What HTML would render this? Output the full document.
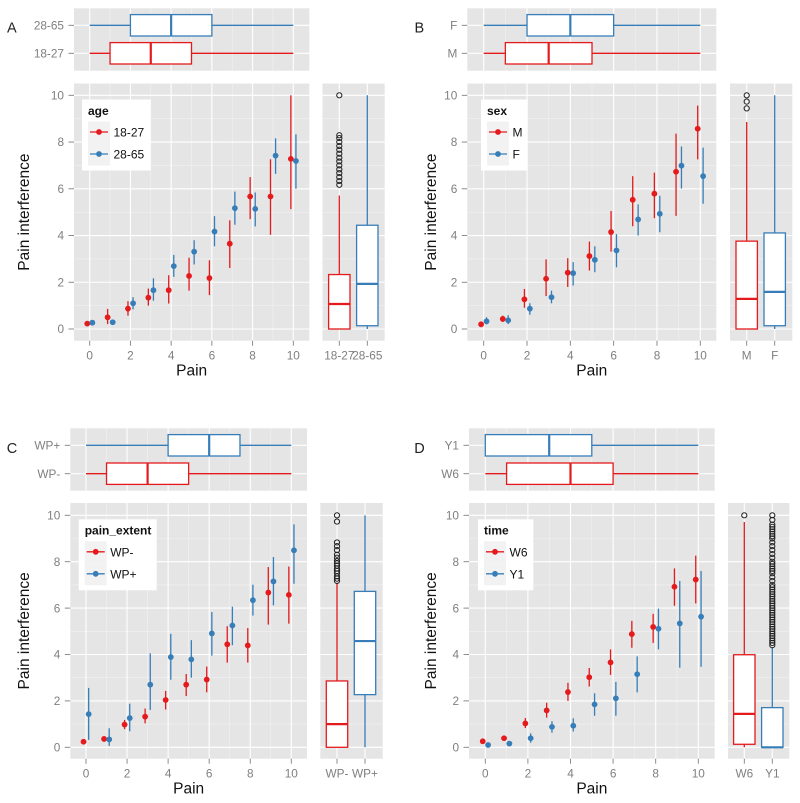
<!DOCTYPE html>
<html lang="en">
<head>
<meta charset="utf-8">
<title>Pain interference by pain across four groupings</title>
<style>
html,body{margin:0;padding:0;background:#fff;width:800px;height:803px;overflow:hidden}
svg{display:block}
text{font-family:"Liberation Sans",sans-serif}
</style>
</head>
<body>
<svg id="figure" width="800" height="803" viewBox="0 0 800 803" xmlns="http://www.w3.org/2000/svg"></svg>
<script>
// Shared axis values
const painTicks = [0, 2, 4, 6, 8, 10];
const painMinorTicks = [1, 3, 5, 7, 9];
const interferenceTicks = [0, 2, 4, 6, 8, 10];
const interferenceMinorTicks = [1, 3, 5, 7, 9];
const painLevels = [0, 1, 2, 3, 4, 5, 6, 7, 8, 9, 10];

// Panel A: age
const aGroups = ['18-27', '28-65'];
const aRedMean = [0.23, 0.5, 0.87, 1.34, 1.66, 2.27, 2.18, 3.65, 5.67, 5.67, 7.28];
const aRedLow = [0.15, 0.21, 0.57, 1.0, 1.09, 1.64, 1.45, 2.61, 4.7, 4.03, 5.13];
const aRedHigh = [0.33, 0.86, 1.19, 1.73, 2.3, 3.05, 2.94, 4.65, 6.5, 7.26, 10];
const aBlueMean = [0.27, 0.29, 1.1, 1.66, 2.69, 3.31, 4.17, 5.17, 5.14, 7.42, 7.19];
const aBlueLow = [0.2, 0.22, 0.84, 1.21, 2.23, 2.76, 3.54, 4.46, 4.39, 6.64, 6.0];
const aBlueHigh = [0.33, 0.36, 1.36, 2.17, 3.17, 3.8, 4.83, 5.88, 5.84, 8.16, 8.33];
const aPainBoxRed = [0, 1, 3, 5, 10];
const aPainBoxBlue = [0, 2, 4, 6, 10];
const aInterfBoxRed = [0, 0, 1.07, 2.33, 5.71];
const aInterfBoxBlue = [0, 0.14, 1.93, 4.44, 10];
const aOutliersRed = [6.17, 6.33, 6.5, 6.67, 6.83, 7, 7.17, 7.33, 7.5, 7.67, 7.83, 8, 8.17, 8.29, 10];
const aOutliersBlue = [];

// Panel B: sex
const bGroups = ['M', 'F'];
const bRedMean = [0.2, 0.43, 1.27, 2.15, 2.41, 3.12, 4.15, 5.53, 5.79, 6.73, 8.57];
const bRedLow = [0.13, 0.3, 0.91, 1.41, 1.8, 2.5, 3.31, 4.4, 4.74, 4.84, 7.26];
const bRedHigh = [0.27, 0.57, 1.71, 2.98, 3.03, 3.74, 5.05, 6.54, 6.69, 8.36, 9.56];
const bBlueMean = [0.33, 0.37, 0.87, 1.36, 2.39, 2.96, 3.36, 4.69, 4.93, 6.99, 6.54];
const bBlueLow = [0.2, 0.21, 0.61, 1.1, 1.86, 2.43, 2.64, 4.0, 4.14, 6.01, 5.36];
const bBlueHigh = [0.5, 0.59, 1.1, 1.64, 2.86, 3.54, 4.06, 5.33, 5.7, 7.81, 7.76];
const bPainBoxRed = [0, 1, 3, 5, 10];
const bPainBoxBlue = [0, 2, 4, 6, 10];
const bInterfBoxRed = [0, 0, 1.29, 3.76, 8.86];
const bInterfBoxBlue = [0, 0.14, 1.59, 4.11, 10];
const bOutliersRed = [9.44, 9.73, 10];
const bOutliersBlue = [];

// Panel C: pain_extent
const cGroups = ['WP-', 'WP+'];
const cRedMean = [0.24, 0.36, 0.98, 1.32, 2.04, 2.7, 2.92, 4.44, 4.39, 6.67, 6.57];
const cRedLow = [0.18, 0.28, 0.78, 1.03, 1.63, 2.21, 2.37, 3.65, 3.65, 5.29, 5.33];
const cRedHigh = [0.3, 0.45, 1.18, 1.67, 2.43, 3.16, 3.48, 5.22, 5.14, 7.77, 7.79];
const cBlueMean = [1.43, 0.34, 1.26, 2.7, 3.89, 3.79, 4.91, 5.25, 6.34, 7.15, 8.49];
const cBlueLow = [0.32, 0.06, 0.69, 1.61, 2.91, 3.0, 3.95, 4.4, 5.68, 6.12, 7.05];
const cBlueHigh = [2.56, 0.82, 1.88, 4.05, 4.89, 4.62, 5.83, 6.06, 7.01, 8.2, 9.61];
const cPainBoxRed = [0, 1, 3, 5, 10];
const cPainBoxBlue = [0, 4, 6, 7.5, 10];
const cInterfBoxRed = [0, 0, 1.0, 2.86, 7.1];
const cInterfBoxBlue = [0, 2.27, 4.58, 6.72, 10];
const cOutliersRed = [7.17, 7.27, 7.37, 7.5, 7.6, 7.7, 7.83, 7.93, 8.03, 8.17, 8.3, 8.5, 8.67, 8.83, 9.73, 10];
const cOutliersBlue = [];

// Panel D: time
const dGroups = ['W6', 'Y1'];
const dRedMean = [0.26, 0.39, 1.03, 1.59, 2.38, 3.02, 3.66, 4.88, 5.19, 6.92, 7.23];
const dRedLow = [0.2, 0.32, 0.83, 1.28, 2.0, 2.62, 3.12, 4.29, 4.5, 6.1, 6.2];
const dRedHigh = [0.32, 0.46, 1.26, 1.92, 2.78, 3.42, 4.22, 5.45, 5.75, 7.71, 8.26];
const dBlueMean = [0.1, 0.16, 0.39, 0.88, 0.93, 1.85, 2.11, 3.15, 5.11, 5.34, 5.63];
const dBlueLow = [0.05, 0.08, 0.2, 0.63, 0.68, 1.36, 1.36, 2.37, 4.22, 3.43, 3.47];
const dBlueHigh = [0.16, 0.25, 0.6, 1.12, 1.25, 2.33, 2.82, 3.92, 5.98, 7.17, 7.6];
const dPainBoxRed = [0, 1, 4, 6, 10];
const dPainBoxBlue = [0, 0, 3, 5, 10];
const dInterfBoxRed = [0, 0.13, 1.44, 3.99, 9.71];
const dInterfBoxBlue = [0, 0, 0, 1.71, 4.33];
const dOutliersRed = [10];
const dOutliersBlue = [4.4, 4.5, 4.6, 4.7, 4.8, 4.9, 5, 5.1, 5.2, 5.3, 5.4, 5.5, 5.6, 5.7, 5.8, 5.9, 6, 6.1, 6.2, 6.3, 6.4, 6.5, 6.6, 6.7, 6.8, 6.9, 7, 7.17, 7.33, 7.5, 7.6, 7.7, 7.8, 7.9, 8, 8.17, 8.33, 8.5, 8.67, 8.83, 9, 9.1, 9.2, 9.3, 9.4, 9.5, 9.6, 9.8, 10];

const SVG_NS = 'http://www.w3.org/2000/svg';
const RED = '#E41A1C';
const BLUE = '#377EB8';
const PANEL_BG = '#E5E5E5';
const MINOR_GRID = '#F2F2F2';
const TICK_COLOR = '#7F7F7F';
const figure = document.getElementById('figure');

function make(parent, tag, props, content) {
  const node = document.createElementNS(SVG_NS, tag);
  Object.keys(props).forEach(function (key) { node.setAttribute(key, props[key]); });
  if (content !== undefined) node.textContent = content;
  parent.appendChild(node);
  return node;
}

function segment(parent, x1, y1, x2, y2, stroke, width) {
  return make(parent, 'line', { x1: x1, y1: y1, x2: x2, y2: y2, stroke: stroke, 'stroke-width': width });
}

function drawPanelBackground(parent, left, right, top, bottom) {
  return make(parent, 'rect', { x: left, y: top, width: right - left, height: bottom - top, fill: PANEL_BG });
}

function drawHorizontalBox(parent, stats, xScale, cy, color) {
  const halfHeight = 10.7;
  const low = segment(parent, xScale(stats[0]), cy, xScale(stats[1]), cy, color, 1.3);
  
  
  const high = segment(parent, xScale(stats[3]), cy, xScale(stats[4]), cy, color, 1.3);
  
  
  const box = make(parent, 'rect', { x: xScale(stats[1]), y: cy - halfHeight, width: xScale(stats[3]) - xScale(stats[1]), height: 2 * halfHeight, fill: '#fff', stroke: color, 'stroke-width': 1.3 });
  
  
  const median = segment(parent, xScale(stats[2]), cy - halfHeight, xScale(stats[2]), cy + halfHeight, color, 2.2);
  
  
}

function drawVerticalBox(parent, stats, yScale, cx, color) {
  const halfWidth = 10.7;
  const low = segment(parent, cx, yScale(stats[0]), cx, yScale(stats[1]), color, 1.3);
  
  
  const high = segment(parent, cx, yScale(stats[3]), cx, yScale(stats[4]), color, 1.3);
  
  
  const box = make(parent, 'rect', { x: cx - halfWidth, y: yScale(stats[3]), width: 2 * halfWidth, height: yScale(stats[1]) - yScale(stats[3]), fill: '#fff', stroke: color, 'stroke-width': 1.3 });
  
  
  const median = segment(parent, cx - halfWidth, yScale(stats[2]), cx + halfWidth, yScale(stats[2]), color, 2.2);
  
  
}

function drawOutliers(parent, values, yScale, cx) {
  values.forEach(function (v) {
    const dot = make(parent, 'circle', { cx: cx, cy: yScale(v), r: 2.6, fill: 'none', stroke: '#222', 'stroke-width': 1 });
    
    
  });
}

function drawSeries(parent, means, lows, highs, xScale, yScale, dodge, color, seriesName) {
  painLevels.forEach(function (level, i) {
    const px = xScale(level + dodge);
    const range = segment(parent, px, yScale(lows[i]), px, yScale(highs[i]), color, 1.3);
    
    
    const point = make(parent, 'circle', { cx: px, cy: yScale(means[i]), r: 2.9, fill: color });
    
    
  });
}

function drawLegend(parent, cfg) {
  const g = make(parent, 'g', {});
  
  
  const left = cfg.legendLeft;
  const top = cfg.legendTop;
  const bg = make(g, 'rect', { x: left, y: top, width: cfg.legendWidth, height: 71, fill: '#fff' });
  
  
  const title = make(g, 'text', { x: left + 6, y: top + 15.4, 'font-size': 12, 'font-weight': 'bold', fill: '#111' }, cfg.legendTitle);
  
  
  [RED, BLUE].forEach(function (color, i) {
    const rowTop = top + 22 + i * 22;
    const key = make(g, 'rect', { x: left + 6, y: rowTop, width: 22, height: 22, fill: '#F2F2F2' });
    
    
    const mark = segment(g, left + 8, rowTop + 10.5, left + 26, rowTop + 10.5, color, 1.3);
    
    
    const dot = make(g, 'circle', { cx: left + 17, cy: rowTop + 10.5, r: 2.9, fill: color });
    
    
    const label = make(g, 'text', { x: left + 31.5, y: rowTop + 15, 'font-size': 12, fill: '#111' }, cfg.groups[i]);
    
    
  });
}

function drawPanel(cfg) {
  const root = make(figure, 'g', {});
  
  

  const xScale = function (v) { return cfg.x0 + v * (cfg.x10 - cfg.x0) / 10; };
  const yScale = function (v) { return cfg.y0 - v * (cfg.y0 - cfg.y10) / 10; };

  const letter = make(root, 'text', { x: cfg.letterX, y: cfg.letterY, 'font-size': 14.5, fill: '#222' }, cfg.letter);
  
  

  // Top horizontal boxplot
  const top = make(root, 'g', {});
  
  
  const topBg = drawPanelBackground(top, cfg.left, cfg.right, cfg.topTop, cfg.topBottom);
  
  
  painMinorTicks.forEach(function (v) {
    const grid = segment(top, xScale(v), cfg.topTop, xScale(v), cfg.topBottom, MINOR_GRID, 0.6);
    
    
  });
  painTicks.forEach(function (v) {
    const grid = segment(top, xScale(v), cfg.topTop, xScale(v), cfg.topBottom, '#fff', 1.1);
    
    
  });
  [cfg.catLowY, cfg.catHighY].forEach(function (cy, i) {
    const grid = segment(top, cfg.left, cy, cfg.right, cy, '#fff', 1.1);
    
    
    const tick = segment(top, cfg.left - 5.5, cy, cfg.left, cy, TICK_COLOR, 0.9);
    
    
    const label = make(top, 'text', { x: cfg.left - 10, y: cy + 4.2, 'font-size': 11.8, fill: TICK_COLOR, 'text-anchor': 'end' }, cfg.groups[i]);
    
    
  });
  drawHorizontalBox(top, cfg.painBoxRed, xScale, cfg.catLowY, RED);
  drawHorizontalBox(top, cfg.painBoxBlue, xScale, cfg.catHighY, BLUE);

  // Main pointrange plot
  const main = make(root, 'g', {});
  
  
  const mainBg = drawPanelBackground(main, cfg.left, cfg.right, cfg.mainTop, cfg.mainBottom);
  
  
  interferenceMinorTicks.forEach(function (v) {
    const grid = segment(main, cfg.left, yScale(v), cfg.right, yScale(v), MINOR_GRID, 0.6);
    
    
  });
  painMinorTicks.forEach(function (v) {
    const grid = segment(main, xScale(v), cfg.mainTop, xScale(v), cfg.mainBottom, MINOR_GRID, 0.6);
    
    
  });
  interferenceTicks.forEach(function (v) {
    const grid = segment(main, cfg.left, yScale(v), cfg.right, yScale(v), '#fff', 1.1);
    
    
    const tick = segment(main, cfg.left - 5.5, yScale(v), cfg.left, yScale(v), TICK_COLOR, 0.9);
    
    
    const label = make(main, 'text', { x: cfg.left - 10, y: yScale(v) + 4.2, 'font-size': 11.8, fill: TICK_COLOR, 'text-anchor': 'end' }, String(v));
    
    
  });
  painTicks.forEach(function (v) {
    const grid = segment(main, xScale(v), cfg.mainTop, xScale(v), cfg.mainBottom, '#fff', 1.1);
    
    
    const tick = segment(main, xScale(v), cfg.mainBottom, xScale(v), cfg.mainBottom + 5, TICK_COLOR, 0.9);
    
    
    const label = make(main, 'text', { x: xScale(v), y: cfg.mainBottom + 18.6, 'font-size': 11.8, fill: TICK_COLOR, 'text-anchor': 'middle' }, String(v));
    
    
  });
  drawSeries(main, cfg.redMean, cfg.redLow, cfg.redHigh, xScale, yScale, -0.12, RED, 'first-group');
  drawSeries(main, cfg.blueMean, cfg.blueLow, cfg.blueHigh, xScale, yScale, 0.13, BLUE, 'second-group');
  drawLegend(main, cfg);

  const xTitle = make(main, 'text', { x: (cfg.left + cfg.right) / 2, y: cfg.mainBottom + 35, 'font-size': 15.5, fill: '#111', 'text-anchor': 'middle' }, 'Pain');
  
  
  const yMid = (cfg.mainTop + cfg.mainBottom) / 2;
  const yTitle = make(main, 'text', { x: cfg.yTitleX, y: yMid, 'font-size': 15.5, fill: '#111', 'text-anchor': 'middle', transform: 'rotate(-90 ' + cfg.yTitleX + ' ' + yMid + ')' }, 'Pain interference');
  
  

  // Side vertical boxplot
  const side = make(root, 'g', {});
  
  
  const sideBg = drawPanelBackground(side, cfg.sideLeft, cfg.sideRight, cfg.mainTop, cfg.mainBottom);
  
  
  interferenceMinorTicks.forEach(function (v) {
    const grid = segment(side, cfg.sideLeft, yScale(v), cfg.sideRight, yScale(v), MINOR_GRID, 0.6);
    
    
  });
  interferenceTicks.forEach(function (v) {
    const grid = segment(side, cfg.sideLeft, yScale(v), cfg.sideRight, yScale(v), '#fff', 1.1);
    
    
  });
  [cfg.catFirstX, cfg.catSecondX].forEach(function (cx, i) {
    const grid = segment(side, cx, cfg.mainTop, cx, cfg.mainBottom, '#fff', 1.1);
    
    
    const tick = segment(side, cx, cfg.mainBottom, cx, cfg.mainBottom + 5, TICK_COLOR, 0.9);
    
    
    const label = make(side, 'text', { x: cx, y: cfg.mainBottom + 18.6, 'font-size': 11.8, fill: TICK_COLOR, 'text-anchor': 'middle' }, cfg.groups[i]);
    
    
  });
  drawVerticalBox(side, cfg.interfBoxRed, yScale, cfg.catFirstX, RED);
  drawVerticalBox(side, cfg.interfBoxBlue, yScale, cfg.catSecondX, BLUE);
  drawOutliers(side, cfg.outliersRed, yScale, cfg.catFirstX);
  drawOutliers(side, cfg.outliersBlue, yScale, cfg.catSecondX);
}

drawPanel({
  letter: 'A', letterX: 7, letterY: 32.7, groups: aGroups, legendTitle: 'age',
  redMean: aRedMean, redLow: aRedLow, redHigh: aRedHigh,
  blueMean: aBlueMean, blueLow: aBlueLow, blueHigh: aBlueHigh,
  painBoxRed: aPainBoxRed, painBoxBlue: aPainBoxBlue,
  interfBoxRed: aInterfBoxRed, interfBoxBlue: aInterfBoxBlue,
  outliersRed: aOutliersRed, outliersBlue: aOutliersBlue,
  left: 74, right: 309.3, topTop: 8.3, topBottom: 70.7, mainTop: 83.5, mainBottom: 340.7,
  sideLeft: 322.5, sideRight: 384.7, x0: 89.7, x10: 293.3, y0: 329, y10: 95.3,
  catLowY: 53.3, catHighY: 25.3, catFirstX: 339.3, catSecondX: 367.3,
  legendLeft: 82, legendTop: 99.5, legendWidth: 68.7, yTitleX: 29
});

drawPanel({
  letter: 'B', letterX: 414.5, letterY: 32.7, groups: bGroups, legendTitle: 'sex',
  redMean: bRedMean, redLow: bRedLow, redHigh: bRedHigh,
  blueMean: bBlueMean, blueLow: bBlueLow, blueHigh: bBlueHigh,
  painBoxRed: bPainBoxRed, painBoxBlue: bPainBoxBlue,
  interfBoxRed: bInterfBoxRed, interfBoxBlue: bInterfBoxBlue,
  outliersRed: bOutliersRed, outliersBlue: bOutliersBlue,
  left: 467.3, right: 716.3, topTop: 8.3, topBottom: 70.7, mainTop: 83.5, mainBottom: 340.7,
  sideLeft: 730, sideRight: 792.3, x0: 483.7, x10: 700.3, y0: 329, y10: 95.3,
  catLowY: 53.3, catHighY: 25.3, catFirstX: 746.7, catSecondX: 774.7,
  legendLeft: 481, legendTop: 99.5, legendWidth: 46.7, yTitleX: 436
});

drawPanel({
  letter: 'C', letterX: 6.7, letterY: 453, groups: cGroups, legendTitle: 'pain_extent',
  redMean: cRedMean, redLow: cRedLow, redHigh: cRedHigh,
  blueMean: cBlueMean, blueLow: cBlueLow, blueHigh: cBlueHigh,
  painBoxRed: cPainBoxRed, painBoxBlue: cPainBoxBlue,
  interfBoxRed: cInterfBoxRed, interfBoxBlue: cInterfBoxBlue,
  outliersRed: cOutliersRed, outliersBlue: cOutliersBlue,
  left: 70.3, right: 307, topTop: 428.3, topBottom: 490.7, mainTop: 503, mainBottom: 758.7,
  sideLeft: 320.3, sideRight: 382.7, x0: 86, x10: 291.3, y0: 747.3, y10: 515.3,
  catLowY: 473.7, catHighY: 445.3, catFirstX: 337, catSecondX: 365,
  legendLeft: 78.7, legendTop: 519.3, legendWidth: 78, yTitleX: 29
});

drawPanel({
  letter: 'D', letterX: 414.3, letterY: 453, groups: dGroups, legendTitle: 'time',
  redMean: dRedMean, redLow: dRedLow, redHigh: dRedHigh,
  blueMean: dBlueMean, blueLow: dBlueLow, blueHigh: dBlueHigh,
  painBoxRed: dPainBoxRed, painBoxBlue: dPainBoxBlue,
  interfBoxRed: dInterfBoxRed, interfBoxBlue: dInterfBoxBlue,
  outliersRed: dOutliersRed, outliersBlue: dOutliersBlue,
  left: 469, right: 714.7, topTop: 428.3, topBottom: 490.7, mainTop: 503, mainBottom: 758.7,
  sideLeft: 728, sideRight: 789.3, x0: 485.3, x10: 698.3, y0: 747.3, y10: 515.3,
  catLowY: 473.7, catHighY: 445.3, catFirstX: 744.3, catSecondX: 772.3,
  legendLeft: 478, legendTop: 519.3, legendWidth: 55.3, yTitleX: 436
});
</script>
</body>
</html>
